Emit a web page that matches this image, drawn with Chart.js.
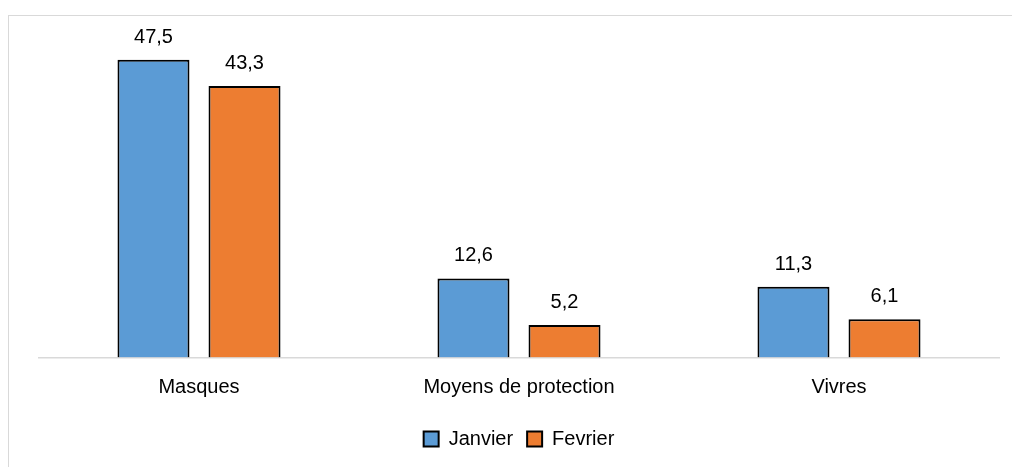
<!DOCTYPE html>
<html>
<head>
<meta charset="utf-8">
<script src="https://cdn.jsdelivr.net/npm/chart.js@4/dist/chart.umd.min.js"></script>
<style>
  html, body { margin: 0; padding: 0; background: #fff; }
  #wrap { position: relative; width: 1012px; height: 467px; overflow: hidden; }
  #frame { position: absolute; left: 8px; top: 15px; width: 1020px; height: 480px; border: 1.5px solid #d9d9d9; box-sizing: border-box; }
  #myChart { position: absolute; left: 0; top: 0; }
</style>
</head>
<body>
<div id="wrap">
  <div id="frame"></div>
  <canvas id="myChart" width="1012" height="467"></canvas>
</div>
<script>
var categories = ["Masques", "Moyens de protection", "Vivres"];
var janvier = [47.5, 12.6, 11.3];
var fevrier = [43.3, 5.2, 6.1];

var FONT = "'Liberation Sans', Arial, sans-serif";

// labels de valeur au-dessus des barres
var valueLabels = {
  id: "valueLabels",
  afterDatasetsDraw: function (chart) {
    var ctx = chart.ctx;
    ctx.save();
    ctx.font = "20px " + FONT;
    ctx.fillStyle = "#000";
    ctx.textAlign = "center";
    ctx.textBaseline = "alphabetic";
    chart.data.datasets.forEach(function (ds, i) {
      chart.getDatasetMeta(i).data.forEach(function (bar, j) {
        var txt = ds.data[j].toFixed(1).replace(".", ",");
        ctx.fillText(txt, bar.x, bar.y - 17);
      });
    });
    ctx.restore();
  }
};

var ctx = document.getElementById("myChart").getContext("2d");
var chart = new Chart(ctx, {
  type: "bar",
  data: {
    labels: categories,
    datasets: [
      {
        label: "Janvier",
        data: janvier,
        backgroundColor: "#5b9bd5",
        borderColor: "#000",
        borderWidth: 2
      },
      {
        label: "Fevrier",
        data: fevrier,
        backgroundColor: "#ed7d31",
        borderColor: "#000",
        borderWidth: 2
      }
    ]
  },
  options: {
    responsive: false,
    animation: false,
    categoryPercentage: 0.569,
    barPercentage: 0.791,
    layout: { padding: { top: 44, left: 39, right: 13, bottom: 8 } },
    plugins: {
      legend: {
        position: "bottom",
        labels: {
          font: { family: FONT, size: 20 },
          color: "#000",
          boxWidth: 15,
          boxHeight: 15,
          padding: 14
        }
      },
      tooltip: { enabled: false }
    },
    scales: {
      x: {
        grid: { display: false, drawTicks: false },
        border: { display: true, color: "#d9d9d9", width: 1.5 },
        ticks: { font: { family: FONT, size: 20 }, color: "#000", padding: 18 },
        afterFit: function (scale) { scale.height = 57.5; }
      },
      y: {
        display: false,
        min: 0,
        max: 50
      }
    }
  },
  plugins: [valueLabels]
});
</script>
</body>
</html>
